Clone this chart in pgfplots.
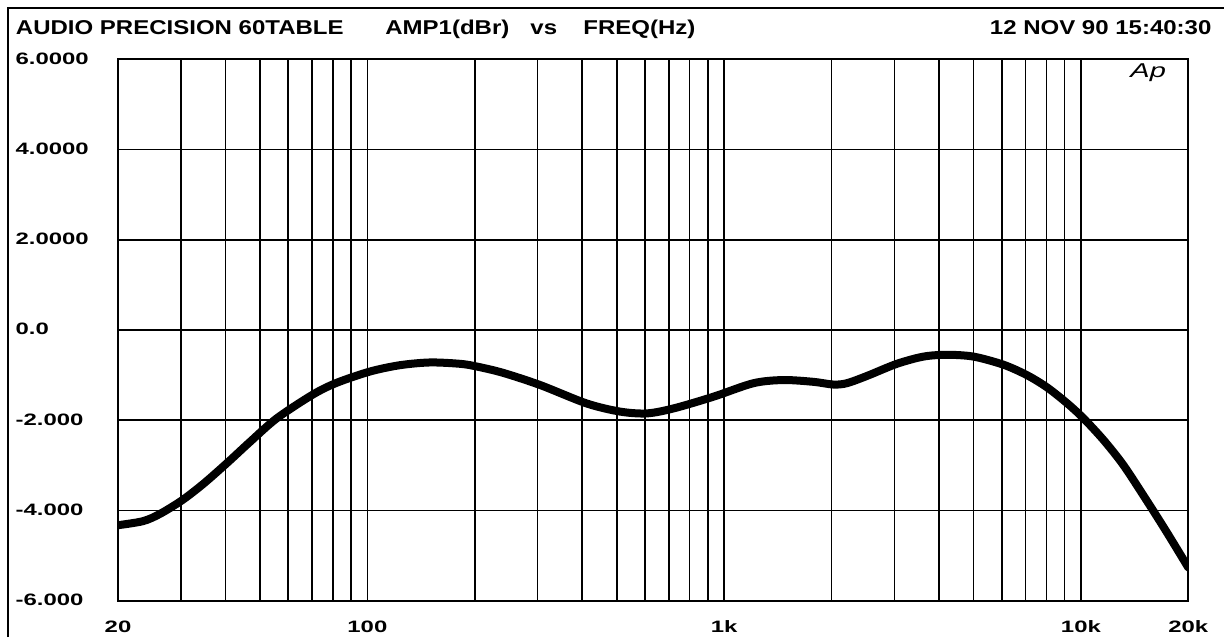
\documentclass[border=0pt]{standalone}
\usepackage{fontspec}
\usepackage{pgfplots}
\pgfplotsset{compat=1.18}
\newfontfamily\titlefont{Liberation Sans}[FakeStretch=1.2]
\newfontfamily\tickfont{Liberation Sans}[FakeStretch=1.45]
\begin{document}
\begin{tikzpicture}
\useasboundingbox (0,0) rectangle (612pt,318.5pt);
\draw[line width=1pt] (4pt,0) -- (4pt,314.5pt) -- (612pt,314.5pt);
\node[anchor=base west, inner sep=0pt, font=\titlefont\bfseries\fontsize{10}{12}\selectfont] at (7.8pt,301pt) {AUDIO PRECISION 60TABLE};
\node[anchor=base west, inner sep=0pt, font=\titlefont\bfseries\fontsize{10}{12}\selectfont] at (192.5pt,301pt) {AMP1(dBr)};
\node[anchor=base west, inner sep=0pt, font=\titlefont\bfseries\fontsize{10}{12}\selectfont] at (265pt,301pt) {vs};
\node[anchor=base west, inner sep=0pt, font=\titlefont\bfseries\fontsize{10}{12}\selectfont] at (291.5pt,301pt) {FREQ(Hz)};
\node[anchor=base east, inner sep=0pt, font=\titlefont\bfseries\fontsize{10}{12}\selectfont] at (605.9pt,301pt) {12 NOV 90 15:40:30};
\begin{axis}[
  at={(59pt,18.25pt)}, anchor=south west,
  scale only axis, width=535.15pt, height=270.5pt,
  xmode=log, xmin=20, xmax=20000, ymin=-6, ymax=6,
  xtick={20,100,1000,10000,20000},
  xticklabels={20,100,1k,10k,20k},
  minor xtick={30,40,50,60,70,80,90,200,300,400,500,600,700,800,900,2000,3000,4000,5000,6000,7000,8000,9000},
  ytick={-6,-4,-2,0,2,4,6},
  yticklabels={-6.000,-4.000,-2.000,0.0,2.0000,4.0000,6.0000},
  grid=both,
  major grid style={black, line width=0.75pt},
  minor grid style={black, line width=0.75pt},
  major tick length=0pt, minor tick length=0pt,
  axis line style={black, line width=1pt},
  tick label style={font=\tickfont\bfseries\fontsize{8.25}{10}\selectfont, inner sep=0pt},
  xticklabel style={anchor=base, yshift=-15.75pt},
  yticklabel style={anchor=base east, text width=51pt, align=left, yshift=-2.5pt},
]
\addplot[black, line width=4pt, line cap=round, line join=round, smooth] table {
x y
20 -4.33
23.5 -4.24
26.2 -4.08
30.2 -3.78
34.6 -3.42
40.3 -2.96
46.9 -2.48
55.7 -1.96
70.4 -1.43
82.1 -1.17
101.8 -0.92
123.5 -0.78
149.9 -0.72
181.9 -0.75
202.6 -0.81
240 -0.95
304.8 -1.22
412 -1.63
510.9 -1.81
607 -1.85
721 -1.74
933 -1.48
1208 -1.18
1466 -1.11
1780 -1.15
2024 -1.21
2208 -1.18
2512 -1.02
3049 -0.75
3620 -0.59
4211 -0.55
4998 -0.59
6067 -0.77
7054 -1.00
8028 -1.27
9133 -1.62
10170 -1.96
11571 -2.44
13164 -3.00
15310 -3.79
17420 -4.49
20000 -5.27
};
\end{axis}
\node[anchor=base west, inner sep=0pt, font=\tickfont\itshape\fontsize{10}{12}\selectfont] at (565pt,279.5pt) {Ap};
\end{tikzpicture}
\end{document}
